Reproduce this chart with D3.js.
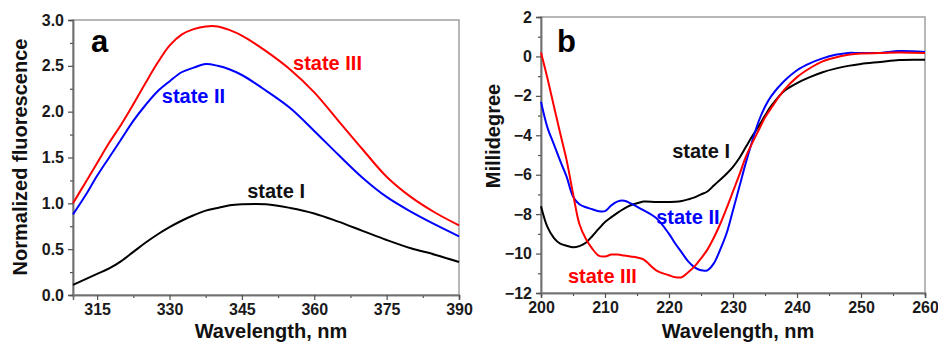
<!DOCTYPE html>
<html>
<head>
<meta charset="utf-8">
<script src="https://cdn.jsdelivr.net/npm/d3@7"></script>
<style>
  body { margin: 0; background: #fff; }
  svg { display: block; font-family: "Liberation Sans", Arial, sans-serif; font-weight: bold; }
</style>
</head>
<body>
<svg id="chart" width="938" height="343"></svg>
<script>
// panel a - fluorescence spectra
const fluorWavelength = [310, 312.5, 315, 317.5, 320, 322.5, 325, 327.5, 330, 332.5, 335, 337.5, 340, 342.5, 345, 350, 355, 360, 365, 370, 375, 380, 385, 390];
const fluorState1 = [0.11, 0.17, 0.23, 0.29, 0.37, 0.47, 0.57, 0.66, 0.74, 0.81, 0.87, 0.92, 0.95, 0.98, 0.99, 0.99, 0.95, 0.89, 0.80, 0.70, 0.60, 0.51, 0.44, 0.36];
const fluorState2 = [0.88, 1.08, 1.30, 1.50, 1.70, 1.90, 2.07, 2.22, 2.33, 2.43, 2.48, 2.52, 2.50, 2.46, 2.40, 2.23, 2.04, 1.79, 1.53, 1.28, 1.07, 0.91, 0.77, 0.64];
const fluorState3 = [1.00, 1.22, 1.44, 1.66, 1.86, 2.08, 2.31, 2.53, 2.72, 2.84, 2.90, 2.93, 2.93, 2.89, 2.83, 2.66, 2.46, 2.21, 1.90, 1.59, 1.29, 1.07, 0.90, 0.76];

// panel b - CD spectra
const cdWavelength = [200, 201, 202, 203, 204, 205, 206, 207, 208, 209, 210, 211, 212, 213, 214, 215, 216, 218, 220, 221, 222, 223, 224, 225, 226, 227, 228, 229, 230, 231, 232, 233, 234, 235, 236, 238, 240, 242, 244, 246, 248, 250, 253, 256, 260];
const cdState1 = [-7.6, -8.65, -9.2, -9.5, -9.6, -9.68, -9.62, -9.45, -9.12, -8.75, -8.4, -8.15, -7.92, -7.72, -7.55, -7.45, -7.36, -7.38, -7.38, -7.37, -7.33, -7.25, -7.15, -7.0, -6.85, -6.55, -6.25, -5.95, -5.6, -5.15, -4.6, -4.05, -3.55, -3.0, -2.5, -1.75, -1.35, -1.05, -0.8, -0.62, -0.48, -0.38, -0.28, -0.18, -0.17];
const cdState2 = [-2.3, -3.6, -4.45, -5.3, -6.1, -7.1, -7.5, -7.65, -7.75, -7.85, -7.85, -7.55, -7.35, -7.32, -7.45, -7.62, -7.8, -8.2, -9.0, -9.5, -9.95, -10.4, -10.7, -10.85, -10.85, -10.5, -9.8, -8.97, -7.8, -6.6, -5.4, -4.3, -3.3, -2.55, -2.0, -1.25, -0.7, -0.35, -0.1, 0.08, 0.18, 0.17, 0.18, 0.27, 0.22];
const cdState3 = [0.2, -1.1, -2.5, -3.9, -5.26, -6.95, -8.5, -9.25, -9.75, -10.1, -10.15, -10.05, -10.05, -10.1, -10.15, -10.2, -10.3, -10.85, -11.1, -11.2, -11.2, -10.95, -10.65, -10.25, -9.8, -9.2, -8.5, -7.7, -6.85, -6.0, -5.1, -4.4, -3.75, -3.1, -2.6, -1.7, -1.05, -0.6, -0.25, -0.05, 0.08, 0.15, 0.17, 0.2, 0.17];

const fluorXTicks = [315, 330, 345, 360, 375, 390];
const fluorYTicks = [0, 0.5, 1.0, 1.5, 2.0, 2.5, 3.0];
const cdXTicks = [200, 210, 220, 230, 240, 250, 260];
const cdYTicks = [-12, -10, -8, -6, -4, -2, 0, 2];

const stateNames = ["state I", "state II", "state III"];
const stateColors = ["#000000", "#0000ff", "#ff0000"];

const svg = d3.select("#chart");

function drawPanel(p) {
    const x = d3.scaleLinear().domain(p.xDomain).range([p.left, p.right]);
    const y = d3.scaleLinear().domain(p.yDomain).range([p.bottom, p.top]);
    const g = svg.append("g");

    // frame
    g.append("rect")
        .attr("x", p.left).attr("y", p.top)
        .attr("width", p.right - p.left).attr("height", p.bottom - p.top)
        .attr("fill", "none").attr("stroke", "#a0a0a0").attr("stroke-width", 1.5);

    // minor ticks
    const xAxisMinor = d3.axisBottom(x).tickValues(p.xMinor).tickSize(3).tickFormat("");
    const yAxisMinor = d3.axisLeft(y).tickValues(p.yMinor).tickSize(3).tickFormat("");
    g.append("g").attr("transform", `translate(0,${p.bottom})`).call(xAxisMinor);
    g.append("g").attr("transform", `translate(${p.left},0)`).call(yAxisMinor);

    // major ticks
    const xAxis = d3.axisBottom(x).tickValues(p.xTicks).tickSize(5).tickPadding(4).tickFormat(p.xFormat);
    const yAxis = d3.axisLeft(y).tickValues(p.yTicks).tickSize(5).tickPadding(4).tickFormat(p.yFormat);
    g.append("g").attr("transform", `translate(0,${p.bottom})`).call(xAxis);
    g.append("g").attr("transform", `translate(${p.left},0)`).call(yAxis);

    g.selectAll(".domain").attr("stroke", "#707070").attr("stroke-width", 1.5);
    g.selectAll(".tick line").attr("stroke", "#505050").attr("stroke-width", 1.2);
    g.selectAll(".tick text")
        .attr("font-family", "Liberation Sans, Arial, sans-serif")
        .attr("font-weight", "bold")
        .attr("font-size", 16)
        .attr("fill", "#1a1a1a");

    // curves
    const line = d3.line()
        .x(d => x(d[0]))
        .y(d => y(d[1]))
        .curve(d3.curveCatmullRom.alpha(0.5));

    p.series.forEach((vals, i) => {
        g.append("path")
            .datum(p.xs.map((v, j) => [v, vals[j]]))
            .attr("fill", "none")
            .attr("stroke", stateColors[i])
            .attr("stroke-width", 2)
            .attr("d", line);
    });

    // series labels
    p.labels.forEach((l, i) => {
        g.append("text")
            .attr("x", x(l[0]))
            .attr("y", y(l[1]))
            .attr("font-size", 20)
            .attr("fill", i === 0 ? "#111" : stateColors[i])
            .text(stateNames[i]);
    });

    // panel letter
    g.append("text")
        .attr("x", p.letterX).attr("y", 52)
        .attr("font-size", 31)
        .attr("fill", "#000")
        .text(p.letter);

    // axis titles
    g.append("text")
        .attr("x", (p.left + p.right) / 2 + 5)
        .attr("y", 338)
        .attr("text-anchor", "middle")
        .attr("font-size", 20)
        .attr("fill", "#111")
        .text("Wavelength, nm");

    g.append("text")
        .attr("transform", `translate(${p.yTitleX},${p.yTitleY}) rotate(-90)`)
        .attr("text-anchor", "middle")
        .attr("font-size", 20)
        .attr("fill", "#111")
        .text(p.yTitle);
}

drawPanel({
    left: 73, right: 459, top: 20, bottom: 295,
    xDomain: [310, 390], yDomain: [0, 3],
    xTicks: fluorXTicks, yTicks: fluorYTicks,
    xMinor: [322.5, 337.5, 352.5, 367.5, 382.5],
    yMinor: [0.25, 0.75, 1.25, 1.75, 2.25, 2.75],
    xFormat: d3.format("d"), yFormat: d3.format(".1f"),
    xs: fluorWavelength,
    series: [fluorState1, fluorState2, fluorState3],
    labels: [[346.1, 1.06], [328.4, 2.09], [355.6, 2.45]],
    letter: "a", letterX: 91,
    yTitle: "Normalized fluorescence", yTitleX: 27, yTitleY: 157
});

drawPanel({
    left: 541, right: 925, top: 17, bottom: 293,
    xDomain: [200, 260], yDomain: [-12, 2],
    xTicks: cdXTicks, yTicks: cdYTicks,
    xMinor: [205, 215, 225, 235, 245, 255],
    yMinor: [-11, -9, -7, -5, -3, -1, 1],
    xFormat: d3.format("d"), yFormat: d3.format("d"),
    xs: cdWavelength,
    series: [cdState1, cdState2, cdState3],
    labels: [[220.5, -5.15], [218, -8.5], [204.2, -11.49]],
    letter: "b", letterX: 557,
    yTitle: "Millidegree", yTitleX: 500, yTitleY: 136
});
</script>
</body>
</html>
